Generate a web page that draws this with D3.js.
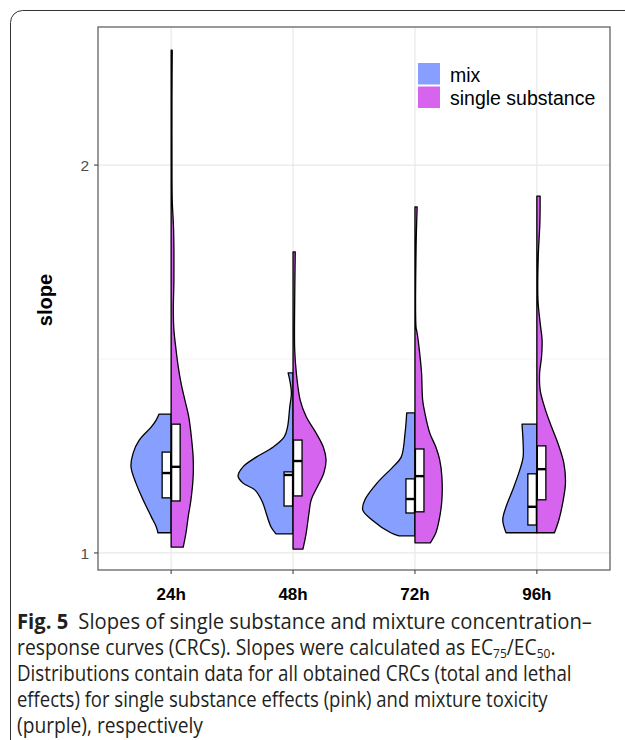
<!DOCTYPE html>
<html>
<head>
<meta charset="utf-8">
<script src="https://cdn.jsdelivr.net/npm/d3@7"></script>
<style>
  body { margin: 0; background: #fff; }
  svg { display: block; }
</style>
</head>
<body>
<svg id="chart" width="625" height="740"></svg>
<script>
// categories + series
const categories = ['24h', '48h', '72h', '96h'];
const seriesNames = ['mix', 'single substance'];
const yTicks = [1, 2];
const yMinor = [1.5];

// violin outlines: [slope, relative density], one array per time point
const mixViolins = [
  [[1.052,0.24],[1.067,0.27],[1.093,0.36],[1.137,0.51],[1.180,0.64],[1.222,0.73],[1.258,0.69],[1.291,0.58],[1.325,0.36],[1.343,0.27],[1.358,0.22]],
  [[1.049,0.31],[1.067,0.40],[1.103,0.49],[1.129,0.55],[1.162,0.69],[1.180,0.91],[1.198,1.00],[1.222,0.91],[1.247,0.67],[1.273,0.36],[1.299,0.16],[1.325,0.10],[1.376,0.06],[1.412,0.03],[1.438,0.05],[1.464,0.09]],
  [[1.044,0.29],[1.052,0.44],[1.085,0.78],[1.111,0.95],[1.137,0.91],[1.180,0.69],[1.222,0.40],[1.247,0.25],[1.309,0.18],[1.361,0.15]],
  [[1.052,0.56],[1.085,0.62],[1.119,0.56],[1.162,0.44],[1.214,0.31],[1.247,0.25],[1.284,0.25],[1.332,0.27]]
];
const singleViolins = [
  [[1.015,0.22],[1.052,0.27],[1.093,0.31],[1.137,0.36],[1.196,0.40],[1.247,0.40],[1.309,0.36],[1.351,0.32],[1.394,0.25],[1.438,0.18],[1.479,0.13],[1.523,0.09],[1.575,0.05],[1.626,0.04],[1.704,0.05],[1.832,0.045],[1.910,0.02],[2.039,0.015],[2.168,0.015],[2.296,0.02]],
  [[1.010,0.18],[1.052,0.24],[1.103,0.29],[1.137,0.33],[1.170,0.44],[1.206,0.56],[1.240,0.60],[1.273,0.55],[1.309,0.42],[1.351,0.24],[1.394,0.13],[1.464,0.06],[1.523,0.03],[1.652,0.03],[1.776,0.04]],
  [[1.026,0.28],[1.052,0.38],[1.085,0.44],[1.137,0.49],[1.196,0.49],[1.240,0.45],[1.273,0.38],[1.309,0.27],[1.361,0.18],[1.394,0.14],[1.464,0.12],[1.523,0.08],[1.567,0.04],[1.582,0.02],[1.781,0.02],[1.892,0.04]],
  [[1.052,0.32],[1.085,0.40],[1.129,0.47],[1.180,0.52],[1.232,0.49],[1.284,0.38],[1.335,0.24],[1.376,0.14],[1.420,0.06],[1.464,0.05],[1.505,0.085],[1.549,0.095],[1.593,0.06],[1.652,0.02],[1.763,0.025],[1.851,0.055],[1.920,0.06]]
];

// boxes: [q1, median, q3]
const mixBoxes = [[1.142,1.206,1.260],[1.121,1.201,1.209],[1.103,1.139,1.191],[1.072,1.119,1.204]];
const singleBoxes = [[1.134,1.222,1.332],[1.147,1.237,1.291],[1.106,1.198,1.268],[1.137,1.216,1.276]];

const captionLines = [
  'Slopes of single substance and mixture concentration\u2013',
  'response curves (CRCs). Slopes were calculated as EC',
  'Distributions contain data for all obtained CRCs (total and lethal',
  'effects) for single substance effects (pink) and mixture toxicity',
  '(purple), respectively'
];

const colors = {'mix': '#87a0ff', 'single substance': '#d664ee'};

const svg = d3.select('#chart');
const panel = {left: 98, right: 610, top: 27, bottom: 570};

const x = d3.scalePoint().domain(categories).range([panel.left, panel.right]).padding(0.6);
const y = d3.scaleLinear().domain([0.956, 2.356]).range([panel.bottom, panel.top]);
const w = d3.scaleLinear().domain([0, 1]).range([0, 55]);
const boxW = 8.5;

// outer figure frame
svg.append('rect')
  .attr('x', 10.5).attr('y', 10.5)
  .attr('width', 700).attr('height', 800)
  .attr('rx', 12)
  .attr('fill', 'none').attr('stroke', '#333').attr('stroke-width', 1);

// grid
const grid = svg.append('g');
grid.selectAll('.minor').data(yMinor).enter().append('line')
  .attr('x1', panel.left).attr('x2', panel.right)
  .attr('y1', d => y(d)).attr('y2', d => y(d))
  .attr('stroke', '#f0f0f0').attr('stroke-width', 0.7);
grid.selectAll('.hmaj').data(yTicks).enter().append('line')
  .attr('x1', panel.left).attr('x2', panel.right)
  .attr('y1', d => y(d)).attr('y2', d => y(d))
  .attr('stroke', '#e8e8e8').attr('stroke-width', 1.2);
grid.selectAll('.vmaj').data(categories).enter().append('line')
  .attr('y1', panel.top).attr('y2', panel.bottom)
  .attr('x1', d => x(d)).attr('x2', d => x(d))
  .attr('stroke', '#e8e8e8').attr('stroke-width', 1.2);

// violins
const violins = svg.append('g');
categories.forEach(function(c, i) {
  const cx = x(c);
  const left = d3.area()
    .y(d => y(d[0]))
    .x0(cx)
    .x1(d => cx - w(d[1]))
    .curve(d3.curveCatmullRom);
  const right = d3.area()
    .y(d => y(d[0]))
    .x0(cx)
    .x1(d => cx + w(d[1]))
    .curve(d3.curveCatmullRom);
  violins.append('path').attr('d', left(mixViolins[i]))
    .attr('fill', colors['mix']).attr('stroke', '#000').attr('stroke-width', 1.3)
    .attr('stroke-linejoin', 'round');
  violins.append('path').attr('d', right(singleViolins[i]))
    .attr('fill', colors['single substance']).attr('stroke', '#000').attr('stroke-width', 1.3)
    .attr('stroke-linejoin', 'round');
});

// boxes
const boxes = svg.append('g');
function drawBox(cx, b) {
  boxes.append('rect')
    .attr('x', cx).attr('width', boxW)
    .attr('y', y(b[2])).attr('height', y(b[0]) - y(b[2]))
    .attr('fill', '#fff').attr('stroke', '#000').attr('stroke-width', 1.3);
  boxes.append('line')
    .attr('x1', cx).attr('x2', cx + boxW)
    .attr('y1', y(b[1])).attr('y2', y(b[1]))
    .attr('stroke', '#000').attr('stroke-width', 2.4);
}
categories.forEach(function(c, i) {
  drawBox(x(c) - 0.5 - boxW, mixBoxes[i]);
  drawBox(x(c) + 0.5, singleBoxes[i]);
});

// panel border
svg.append('rect')
  .attr('x', panel.left).attr('y', panel.top)
  .attr('width', panel.right - panel.left).attr('height', panel.bottom - panel.top)
  .attr('fill', 'none').attr('stroke', '#555').attr('stroke-width', 1.2);

// y axis
const yAxis = svg.append('g');
yAxis.selectAll('line').data(yTicks).enter().append('line')
  .attr('x1', panel.left - 4).attr('x2', panel.left)
  .attr('y1', d => y(d)).attr('y2', d => y(d))
  .attr('stroke', '#444').attr('stroke-width', 1.1);
yAxis.selectAll('text').data(yTicks).enter().append('text')
  .attr('x', panel.left - 9).attr('y', d => y(d))
  .attr('dy', '0.36em')
  .attr('text-anchor', 'end')
  .attr('font-family', 'Liberation Sans, Arial, sans-serif')
  .attr('font-size', 15.5).attr('fill', '#4d4d4d')
  .text(d => d);

svg.append('text')
  .attr('transform', 'translate(52,300) rotate(-90)')
  .attr('text-anchor', 'middle')
  .attr('font-family', 'Liberation Sans, Arial, sans-serif')
  .attr('font-size', 20).attr('font-weight', 'bold')
  .text('slope');

// x axis
const xAxis = svg.append('g');
xAxis.selectAll('line').data(categories).enter().append('line')
  .attr('x1', d => x(d)).attr('x2', d => x(d))
  .attr('y1', panel.bottom).attr('y2', panel.bottom + 4)
  .attr('stroke', '#444').attr('stroke-width', 1.1);
xAxis.selectAll('text').data(categories).enter().append('text')
  .attr('x', d => x(d)).attr('y', 600)
  .attr('text-anchor', 'middle')
  .attr('font-family', 'Liberation Sans, Arial, sans-serif')
  .attr('font-size', 17).attr('font-weight', 'bold')
  .text(d => d);

// legend
const legend = svg.append('g');
seriesNames.forEach(function(s, i) {
  legend.append('rect')
    .attr('x', 418).attr('y', 63 + i * 23.5)
    .attr('width', 22).attr('height', 21.5)
    .attr('fill', colors[s]);
  legend.append('text')
    .attr('x', 450).attr('y', 81.5 + i * 23)
    .attr('font-family', 'Liberation Sans, Arial, sans-serif')
    .attr('font-size', 19.5)
    .text(s);
});

// caption - lines 1-4 squeezed to their width in the figure, last one uses their mean squeeze
const cap = svg.append('g')
  .attr('font-family', 'Open Sans, Noto Sans, sans-serif')
  .attr('font-size', 21).attr('fill', '#231f20');
const lineY = [629, 655, 681, 707, 733];
const lineW = [575, 539, 555, 531];
const capTexts = [];

const t0 = cap.append('text').attr('x', 0).attr('y', 0);
t0.append('tspan').attr('font-weight', 'bold').text('Fig. 5');
t0.append('tspan').text('\u2002' + captionLines[0]);
capTexts.push(t0);

const t1 = cap.append('text').attr('x', 0).attr('y', 0);
t1.append('tspan').text(captionLines[1]);
t1.append('tspan').attr('font-size', 13).attr('dy', 3).text('75');
t1.append('tspan').attr('dy', -3).text('/EC');
t1.append('tspan').attr('font-size', 13).attr('dy', 3).text('50');
t1.append('tspan').attr('dy', -3).text('.');
capTexts.push(t1);

[2, 3, 4].forEach(function(i) {
  capTexts.push(cap.append('text').attr('x', 0).attr('y', 0).text(captionLines[i]));
});

const ks = lineW.map((lw, i) => lw / capTexts[i].node().getComputedTextLength());
ks.push(d3.mean(ks));
capTexts.forEach(function(t, i) {
  t.attr('transform', 'translate(17,' + lineY[i] + ') scale(' + ks[i] + ',1)');
});
</script>
</body>
</html>
